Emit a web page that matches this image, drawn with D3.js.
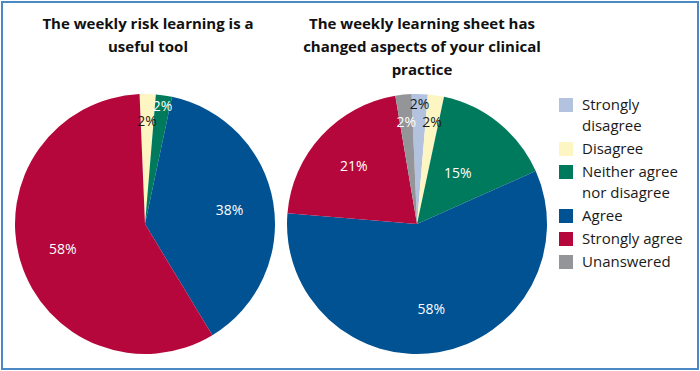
<!DOCTYPE html>
<html>
<head>
<meta charset="utf-8">
<script src="https://cdn.jsdelivr.net/npm/d3@7"></script>
<style>
  body { margin: 0; background: #fff; }
  text { font-family: "Open Sans", "Noto Sans", sans-serif; }
</style>
</head>
<body>
<div id="chart"></div>
<script>
// answer categories, in the order Excel draws them (clockwise from 12 o'clock)
var categories = ["Strongly disagree", "Disagree", "Neither agree nor disagree", "Agree", "Strongly agree", "Unanswered"];
var legendLines = [["Strongly", "disagree"], ["Disagree"], ["Neither agree", "nor disagree"], ["Agree"], ["Strongly agree"], ["Unanswered"]];
var colors = ["#b3c2df", "#fdf6c3", "#007a5c", "#005293", "#b5073b", "#949599"];

// percentages per chart
var usefulTool = [0, 2, 2, 38, 58, 0];
var changedPractice = [2, 2, 15, 58, 21, 2];

var titles = [
  ["The weekly risk learning is a", "useful tool"],
  ["The weekly learning sheet has", "changed aspects of your clinical", "practice"]
];

// which small-slice label sits on the outer ring (avoids overlaps, like Excel did)
var outerLabel = [["Neither agree nor disagree"], ["Strongly disagree"]];

var width = 700, height = 371;

var svg = d3.select("#chart").append("svg")
    .attr("width", width)
    .attr("height", height);

// outer frame
svg.append("rect")
    .attr("x", 2).attr("y", 2)
    .attr("width", width - 4).attr("height", height - 4)
    .attr("fill", "none")
    .attr("stroke", "#4b89c4")
    .attr("stroke-width", 2);

var color = d3.scaleOrdinal().domain(categories).range(colors);

// Excel had the first slice a little before 12 o'clock
var startOffset = -0.042;
var radius = 130;

var pie = d3.pie()
    .sort(null)
    .value(function(d) { return d.value; })
    .startAngle(startOffset)
    .endAngle(startOffset + 2 * Math.PI);

var arc = d3.arc().innerRadius(0).outerRadius(radius);

function drawPie(values, cx, cy, titleLines, titleX, outer) {
  var data = categories.map(function(c, i) { return {key: c, value: values[i]}; });
  var arcs = pie(data);

  var g = svg.append("g").attr("transform", "translate(" + cx + "," + cy + ")");

  g.selectAll("path")
    .data(arcs)
    .enter()
    .append("path")
      .attr("d", arc)
      .attr("fill", function(d) { return color(d.data.key); });

  g.selectAll(".lbl")
    .data(arcs.filter(function(d) { return d.data.value > 0; }))
    .enter()
    .append("text")
      .attr("class", "lbl")
      .attr("transform", function(d) {
        var r;
        if (d.data.value < 5) { r = outer.indexOf(d.data.key) >= 0 ? 0.92 * radius : 0.79 * radius; }
        else if (d.data.value < 18) { r = 0.5 * radius; }
        else { r = 0.66 * radius; }
        var a = (d.startAngle + d.endAngle) / 2;
        return "translate(" + (r * Math.sin(a)) + "," + (-r * Math.cos(a)) + ")";
      })
      .attr("text-anchor", "middle")
      .attr("dy", "0.35em")
      .style("font-size", "14px")
      .style("fill", function(d) {
        return (d.data.key === "Disagree" || d.data.key === "Strongly disagree") ? "#1a1a1a" : "#fff";
      })
      .text(function(d) { return d.data.value + "%"; });

  svg.append("text")
    .attr("x", titleX)
    .attr("y", 29)
    .attr("text-anchor", "middle")
    .style("font-size", "15px")
    .style("font-weight", "bold")
    .style("fill", "#111")
    .selectAll("tspan")
    .data(titleLines)
    .enter()
    .append("tspan")
      .attr("x", titleX)
      .attr("dy", function(d, i) { return i === 0 ? 0 : 23; })
      .text(function(d) { return d; });
}

drawPie(usefulTool, 145, 224, titles[0], 148, outerLabel[0]);
drawPie(changedPractice, 417, 224, titles[1], 422, outerLabel[1]);

// legend
var legend = svg.append("g");
var y = 98;
legendLines.forEach(function(lines, i) {
  var row = legend.append("g").attr("transform", "translate(559," + y + ")");
  row.append("rect")
    .attr("width", 14).attr("height", 14)
    .attr("fill", color(categories[i]));
  lines.forEach(function(t, j) {
    row.append("text")
      .attr("x", 23)
      .attr("y", 12 + j * 21)
      .style("font-size", "15px")
      .style("fill", "#1a1a1a")
      .text(t);
  });
  y += lines.length * 21 + 2;
});
</script>
</body>
</html>
